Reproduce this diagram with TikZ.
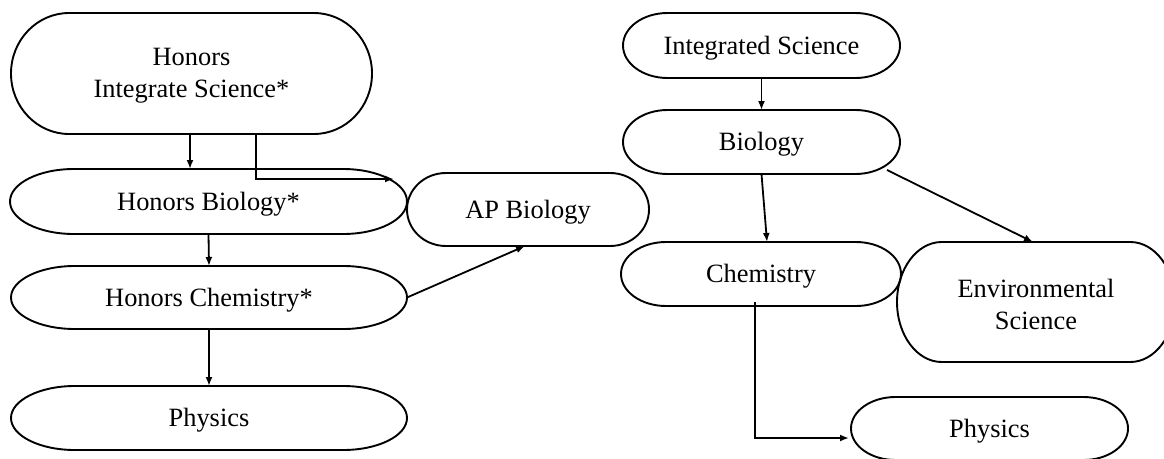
\documentclass[tikz,border=0pt]{standalone}
\usepackage{fontspec}
\setmainfont{Liberation Serif}
\usetikzlibrary{arrows.meta,calc}
\tikzset{
  shp/.style={draw=none,inner sep=0pt,outer sep=0pt,rectangle},
  bx/.style={draw=black,line width=1.9pt},
  txt/.style={inner sep=0pt,font=\fontsize{26.4}{32}\selectfont,text height=18pt,text depth=6pt},
  txtm/.style={inner sep=0pt,font=\fontsize{26.4}{32}\selectfont,align=center},
  arr/.style={line width=1.8pt,-{Latex[length=9pt,width=7pt]}}
}
\newcommand\termbox[7]{%
  \node[shp,minimum width=#4pt,minimum height=#5pt] (#1) at (#2,-#3) {};
  \pgfmathsetmacro\tbrx{0.161*#4}%
  \pgfmathsetmacro\tbry{#5/2}%
  \draw[bx] ([xshift=\tbrx pt]#1.north west) -- ([xshift=-\tbrx pt]#1.north east)
     arc[start angle=90,end angle=-90,x radius=\tbrx pt,y radius=\tbry pt]
     -- ([xshift=\tbrx pt]#1.south west)
     arc[start angle=270,end angle=90,x radius=\tbrx pt,y radius=\tbry pt] -- cycle;
  \node[#7] (#1t) at ([yshift=-2.5pt]#1.center) {#6};
}
\begin{document}
\begin{tikzpicture}[x=1pt,y=1pt]
\useasboundingbox (0,0) rectangle (1164,-458);
\fill[white] (0,0) rectangle (1164,-458);
% left column
\termbox{his}{191.5}{73.5}{361}{121}{Honors\\Integrate Science*}{txtm}
\termbox{hbio}{208.5}{201.5}{397}{65}{Honors Biology*}{txt}
\termbox{apbio}{528}{209.5}{242}{73}{AP Biology}{txt}
\termbox{hchem}{209}{297.5}{396}{63}{Honors Chemistry*}{txt}
\termbox{hphys}{209}{418}{396}{64}{Physics}{txt}
% right column
\termbox{isci}{761.5}{45.5}{277}{65}{Integrated Science}{txt}
\termbox{bio}{761.5}{142}{277}{64}{Biology}{txt}
\termbox{chem}{761}{274}{280}{64}{Chemistry}{txt}
\termbox{env}{1036}{302}{278}{120}{Environmental\\Science}{txtm}
\termbox{phys}{989.5}{428.5}{277}{63}{Physics}{txt}
% connectors
\coordinate (apin) at (394,-179);
\coordinate (physin) at (849,-438);
\draw[arr] ([xshift=-1.5pt]his.south) -- ([xshift=-18.5pt]hbio.north);
\draw[arr] ([xshift=64.5pt]his.south) |- (apin);
\draw[arr] (hbio.south) -- (hchem.north);
\draw[arr] (hchem.south) -- (hphys.north);
\draw[arr] (hchem.east) -- ([xshift=-3pt]apbio.south);
\draw[arr] (isci.south) -- (bio.north);
\draw[arr] (bio.south) -- ([xshift=6pt]chem.north);
\draw[arr] ([xshift=-13pt,yshift=4pt]bio.south east) -- ([xshift=-3pt]env.north);
\draw[arr] ([xshift=-6pt,yshift=4pt]chem.south) |- (physin);
\end{tikzpicture}
\end{document}
